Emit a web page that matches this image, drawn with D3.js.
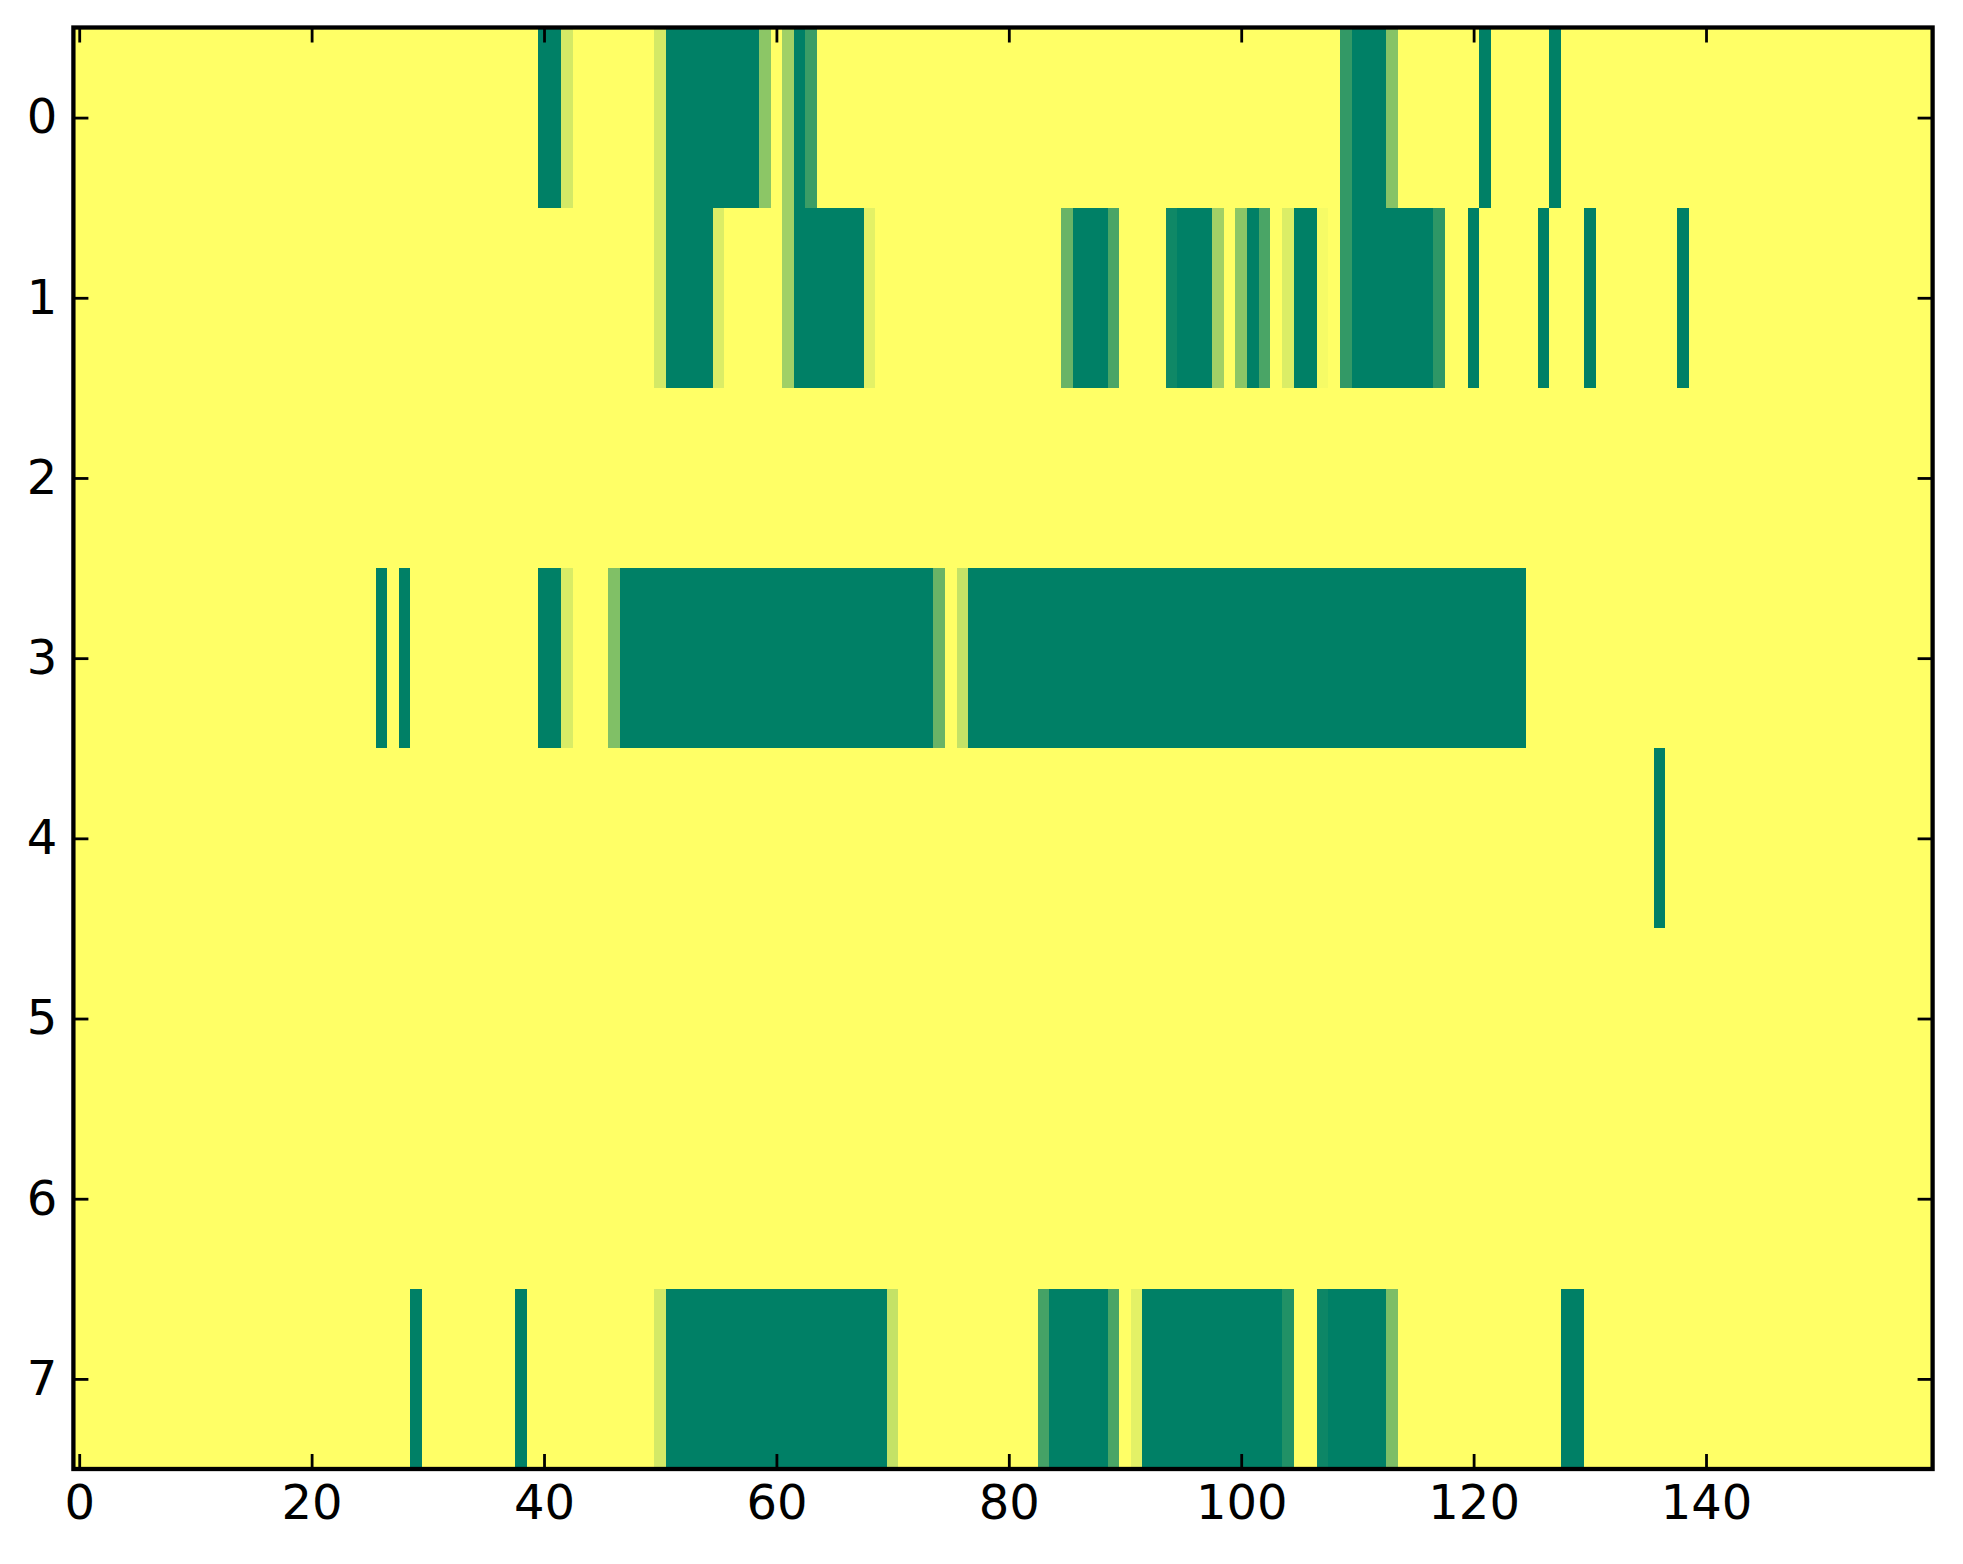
<!DOCTYPE html>
<html>
<head>
<meta charset="utf-8">
<script src="https://cdn.jsdelivr.net/npm/d3@7"></script>
<style>
  body { margin: 0; background: #fff; }
  text { font-family: "DejaVu Sans", sans-serif; }
</style>
</head>
<body>
<div id="chart"></div>
<script>
// segments per row: [first column, last column, value]
const row0 = [[40,41,1],[42,42,0.17],[50,50,0.17],[51,58,1],[59,59,0.45],[61,61,0.37],[62,62,1],[63,63,0.77],
              [109,109,0.8],[110,112,1],[113,113,0.47],[121,121,1],[127,127,1]];
const row1 = [[50,50,0.17],[51,54,1],[55,55,0.14],[61,61,0.37],[62,67,1],[68,68,0.11],
              [85,85,0.59],[86,88,1],[89,89,0.71],[94,94,0.94],[95,97,1],[98,98,0.37],[100,100,0.45],
              [101,101,1],[102,102,0.71],[104,104,0.14],[105,106,1],[107,107,0.035],
              [109,109,0.8],[110,116,1],[117,117,0.82],[120,120,1],[126,126,1],[130,130,1],[138,138,1]];
const row2 = [];
const row3 = [[26,26,1],[28,28,1],[40,41,1],[42,42,0.15],[46,46,0.5],[47,73,1],[74,74,0.59],[76,76,0.23],[77,124,1]];
const row4 = [[136,136,1]];
const row5 = [];
const row6 = [];
const row7 = [[29,29,1],[38,38,1],[50,50,0.17],[51,69,1],[70,70,0.23],[83,83,0.73],[84,88,1],[89,89,0.71],
              [91,91,0.11],[92,103,1],[104,104,0.87],[107,107,0.95],[108,112,1],[113,113,0.51],[128,129,1]];

const nCols = 160;
const xTicks = [0, 20, 40, 60, 80, 100, 120, 140];
const yTicks = [0, 1, 2, 3, 4, 5, 6, 7];

const width = 1963, height = 1564;
const plotLeft = 73.4, plotRight = 1932.6, plotTop = 27.5, plotBottom = 1469;

// build the full matrix (0 = background)
const rows = [row0, row1, row2, row3, row4, row5, row6, row7];
const cells = [];
rows.forEach((segs, r) => {
    const vals = new Array(nCols).fill(0);
    segs.forEach(s => { for (let c = s[0]; c <= s[1]; c++) vals[c] = s[2]; });
    vals.forEach((v, c) => cells.push({ row: r, col: c, value: v }));
});

const x = d3.scaleLinear().domain([-0.5, nCols - 0.5]).range([plotLeft, plotRight]);
const y = d3.scaleLinear().domain([-0.5, rows.length - 0.5]).range([plotTop, plotBottom]);
// summer_r colormap
const color = d3.scaleLinear().domain([0, 1]).range(['#ffff66', '#008066']);

const svg = d3.select('#chart').append('svg')
    .attr('width', width)
    .attr('height', height);

svg.append('g')
    .selectAll('rect')
    .data(cells)
    .enter().append('rect')
    .attr('x', d => x(d.col - 0.5))
    .attr('y', d => y(d.row - 0.5))
    .attr('width', x(1) - x(0) + 0.6)
    .attr('height', y(1) - y(0) + 0.6)
    .attr('fill', d => color(d.value))
    .attr('shape-rendering', 'crispEdges');

// ticks inward on all four sides
const tickLen = 15;
const styleAxis = g => {
    g.select('.domain').remove();
    g.selectAll('.tick line').attr('stroke', '#000').attr('stroke-width', 2.8);
    g.selectAll('.tick text').attr('fill', '#000').style('font-size', '48px');
};

svg.append('g')
    .attr('transform', `translate(0,${plotBottom})`)
    .call(d3.axisBottom(x).tickValues(xTicks).tickSizeInner(-tickLen).tickSizeOuter(0).tickPadding(16).tickFormat(d3.format('d')))
    .call(styleAxis)
    .selectAll('.tick text').attr('dy', '0.71em');

svg.append('g')
    .attr('transform', `translate(0,${plotTop})`)
    .call(d3.axisTop(x).tickValues(xTicks).tickSizeInner(-tickLen).tickSizeOuter(0).tickFormat(''))
    .call(styleAxis);

svg.append('g')
    .attr('transform', `translate(${plotLeft},0)`)
    .call(d3.axisLeft(y).tickValues(yTicks).tickSizeInner(-tickLen).tickSizeOuter(0).tickPadding(16).tickFormat(d3.format('d')))
    .call(styleAxis);

svg.append('g')
    .attr('transform', `translate(${plotRight},0)`)
    .call(d3.axisRight(y).tickValues(yTicks).tickSizeInner(-tickLen).tickSizeOuter(0).tickFormat(''))
    .call(styleAxis);

// frame
svg.append('rect')
    .attr('x', plotLeft)
    .attr('y', plotTop)
    .attr('width', plotRight - plotLeft)
    .attr('height', plotBottom - plotTop)
    .attr('fill', 'none')
    .attr('stroke', '#000')
    .attr('stroke-width', 4.3);
</script>
</body>
</html>
